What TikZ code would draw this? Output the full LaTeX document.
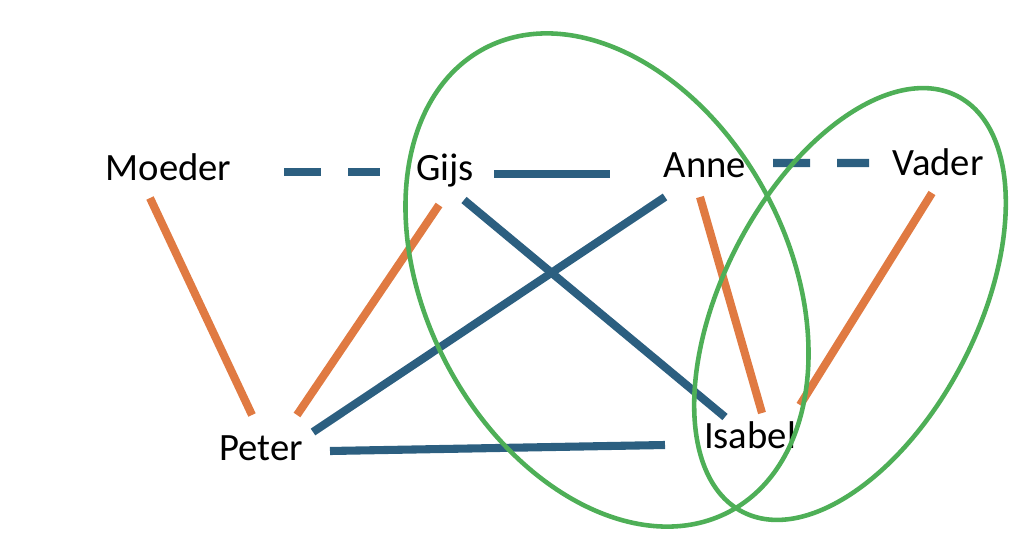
\documentclass[tikz,border=0pt]{standalone}
\usepackage{fontspec}
\setmainfont{Carlito}
\usepackage{xcolor}
\usepackage{tikz}
\usetikzlibrary{calc}
\definecolor{tie}{HTML}{2C5F80}
\definecolor{kin}{HTML}{E07A42}
\definecolor{group}{HTML}{4EAF57}

\begin{document}
\begin{tikzpicture}[
  person/.style={inner sep=0pt, anchor=base, font=\fontsize{11}{13}\selectfont},
  bond/.style={line width=2.3pt, tie},
  blood/.style={line width=2.3pt, kin},
  loose/.style={bond, dash pattern=on 0.37cm off 0.27cm},
  ring/.style={line width=1.3pt, group}
]
  \useasboundingbox (0,0) rectangle (10.24,5.42);

  \node[person] (moeder) at (1.685,3.62) {Moeder};
  \node[person] (gijs) at (4.45,3.62) {Gijs};
  \node[person] (anne) at (7.05,3.65) {Anne};
  \node[person] (vader) at (9.38,3.67) {Vader};
  \node[person] (peter) at (2.61,0.82) {Peter};
  \node[person] (isabel) at (7.50,0.94) {Isabel};

  % top row
  \draw[loose] ($(moeder.base)+(1.155,0.08)$) -- ($(gijs.base)+(-0.65,0.08)$);
  \draw[bond] ($(gijs.base)+(0.49,0.06)$) -- ($(anne.base)+(-0.95,0.03)$);
  \draw[loose] ($(anne.base)+(0.68,0.14)$) -- ($(vader.base)+(-0.69,0.12)$);

  % orange lines
  \draw[blood] ($(moeder.base)+(-0.185,-0.18)$) -- ($(peter.base)+(-0.09,0.45)$);
  \draw[blood] ($(gijs.base)+(-0.06,-0.25)$) -- ($(peter.base)+(0.36,0.45)$);
  \draw[blood] ($(anne.base)+(-0.05,-0.20)$) -- ($(isabel.base)+(0.12,0.35)$);
  \draw[blood] ($(vader.base)+(-0.06,-0.18)$) -- ($(isabel.base)+(0.50,0.43)$);

  % blue lines
  \draw[bond] ($(gijs.base)+(0.19,-0.20)$) -- ($(isabel.base)+(-0.25,0.31)$);
  \draw[bond] ($(anne.base)+(-0.40,-0.20)$) -- ($(peter.base)+(0.52,0.28)$);
  \draw[bond] ($(peter.base)+(0.69,0.09)$) -- ($(isabel.base)+(-0.85,0.03)$);

  % groups
  \draw[ring, rotate around={-62.1:(6.07,2.62)}] (6.07,2.62) ellipse [x radius=2.62, y radius=1.81];
  \draw[ring, rotate around={62.65:(8.50,2.38)}] (8.50,2.38) ellipse [x radius=2.34, y radius=1.27];
\end{tikzpicture}
\end{document}
